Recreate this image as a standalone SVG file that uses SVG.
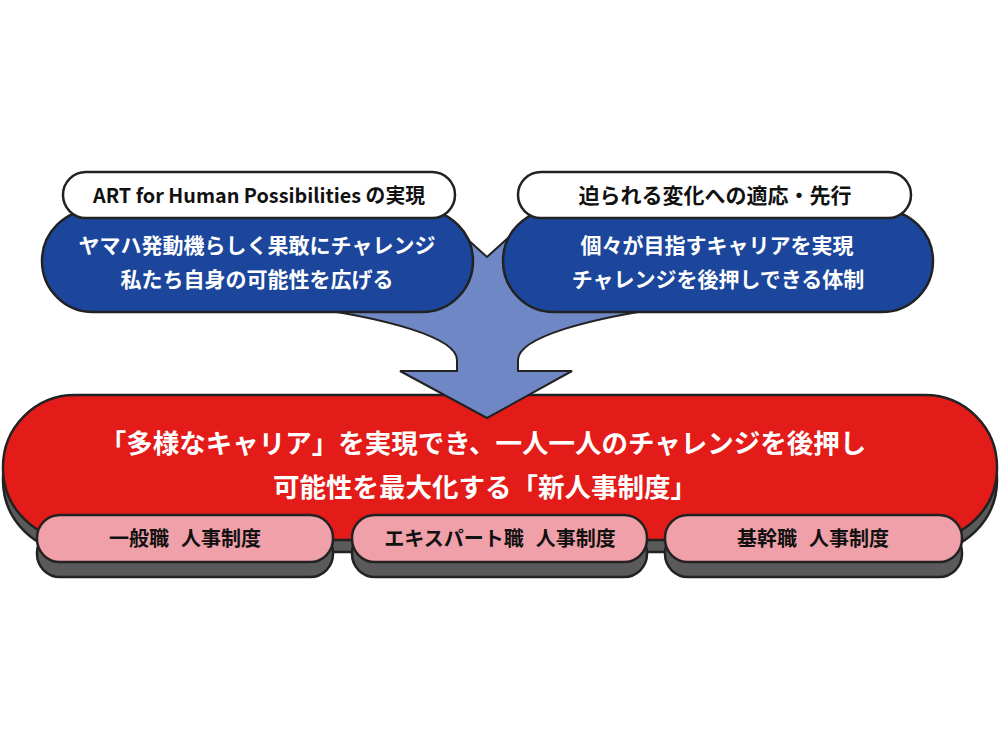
<svg xmlns="http://www.w3.org/2000/svg" width="1000" height="750" viewBox="0 0 1000 750">
<style>
.ol{stroke:#222;stroke-width:2.5}
.shadow{fill:#5a5a5a}
.red{fill:#e31c19}
.pink{fill:#f0a0a8}
.blue{fill:#1b469c}
.white{fill:#fff}
.arrow{fill:#6f88c5;stroke:#222;stroke-width:2;stroke-linejoin:miter}
text{font-family:"Noto Sans CJK JP","Noto Sans",sans-serif;font-weight:bold;text-anchor:middle}
.tw{fill:#fff}
.tb{fill:#111}
</style>
<rect width="1000" height="750" fill="#fff"/>
<g id="main">
<rect class="shadow ol" x="3" y="407" width="994" height="145" rx="72"/>
<rect class="red ol" x="3" y="395" width="994" height="145" rx="72"/>
<text class="tw" x="483" y="453" font-size="26.5">「多様なキャリア」を実現でき、一人一人のチャレンジを後押し</text>
<text class="tw" x="485" y="497" font-size="26.5">可能性を最大化する「新人事制度」</text>
</g>
<g id="general">
<rect class="shadow ol" x="37" y="530" width="296" height="47" rx="23"/>
<rect class="pink ol" x="37" y="515" width="296" height="47" rx="23"/>
<text class="tb" x="185" y="546" font-size="20">一般職<tspan dx="12">人事制度</tspan></text>
</g>
<g id="expert">
<rect class="shadow ol" x="352" y="530" width="295" height="47" rx="23"/>
<rect class="pink ol" x="352" y="515" width="295" height="47" rx="23"/>
<text class="tb" x="500" y="546" font-size="20">エキスパート職<tspan dx="12">人事制度</tspan></text>
</g>
<g id="core">
<rect class="shadow ol" x="665" y="530" width="297" height="47" rx="23"/>
<rect class="pink ol" x="665" y="515" width="297" height="47" rx="23"/>
<text class="tb" x="813" y="546" font-size="20">基幹職<tspan dx="12">人事制度</tspan></text>
</g>
<g id="connectors">
<path class="arrow" d="M 290 305 C 390 318, 457 338, 457 360 L 457 371 L 400 371 L 487 418 L 572 371 L 518 371 L 518 360 C 518 338, 585 318, 685 305 L 685 228 L 519 228 L 487 257 L 455 228 L 290 228 Z"/>
</g>
<g id="art">
<rect class="blue ol" x="42" y="210" width="431" height="102" rx="51"/>
<rect class="white ol" x="63" y="172" width="392" height="46" rx="23"/>
<text class="tb" x="259" y="203" font-size="20" textLength="332" lengthAdjust="spacingAndGlyphs">ART for Human Possibilities の実現</text>
<text class="tw" x="257" y="253" font-size="21">ヤマハ発動機らしく果敢にチャレンジ</text>
<text class="tw" x="257" y="287" font-size="21">私たち自身の可能性を広げる</text>
</g>
<g id="change">
<rect class="blue ol" x="503" y="210" width="430" height="102" rx="51"/>
<rect class="white ol" x="518" y="172" width="393" height="46" rx="23"/>
<text class="tb" x="715" y="203" font-size="21">迫られる変化への適応・先行</text>
<text class="tw" x="717" y="253" font-size="21">個々が目指すキャリアを実現</text>
<text class="tw" x="718" y="287" font-size="21">チャレンジを後押しできる体制</text>
</g>
</svg>
